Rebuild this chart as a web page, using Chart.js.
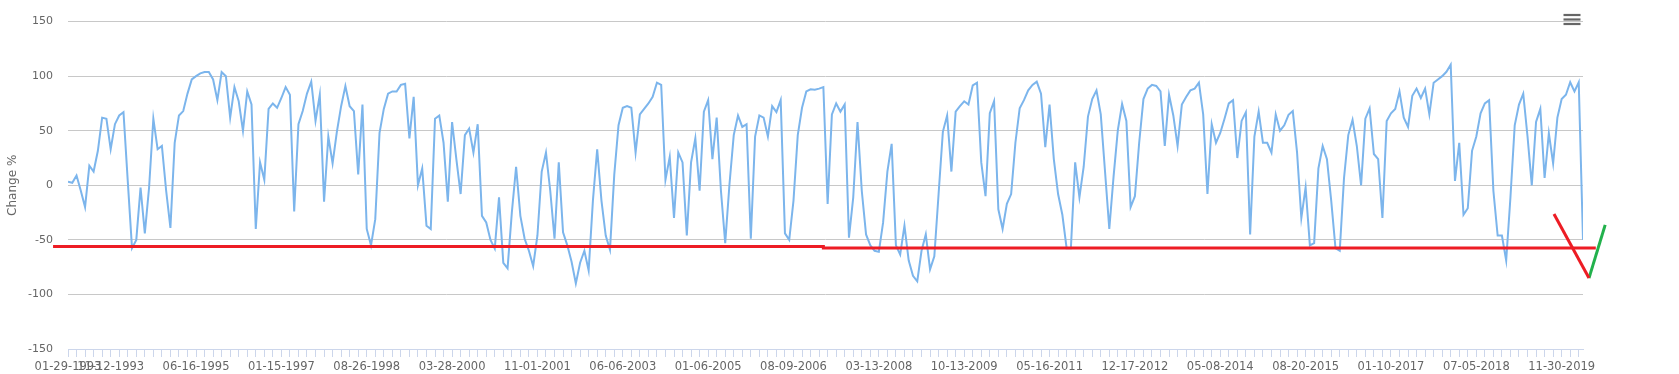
<!DOCTYPE html>
<html>
<head>
<meta charset="utf-8">
<script src="https://cdn.jsdelivr.net/npm/chart.js@4"></script>
<style>
  html, body { margin: 0; padding: 0; background: #fff; }
  #wrap { width: 1679px; height: 374px; position: relative; }
</style>
</head>
<body>
<div id="wrap"><canvas id="chart"></canvas></div>
<script>
'use strict';

// change %, one reading about every 20 trading days
const changePct = [
  3.2, 2.3, 9, -5, -20, 18, 12.6, 31.6, 62, 61,
  33, 56, 64, 67, 4, -57.6, -50, -2, -44, -2,
  61, 33, 36, -5, -39, 39, 64, 68, 84, 97,
  100, 102.6, 103.8, 103.8, 97, 78, 103.8, 100, 62, 90,
  77, 50, 86, 74, -40, 21, 5, 70, 75, 71,
  80, 90, 83, -24, 56, 68, 84, 95, 59, 83,
  -15, 44.7, 20, 49, 72.5, 91, 72.5, 68, 10, 74,
  -40, -55, -31, 48, 70, 84, 86, 86, 92, 93,
  43, 81, 0, 15.5, -37, -40, 61, 64, 39, -15,
  58, 24, -8, 46, 52, 30, 56, -28, -34, -50,
  -58, -11, -71, -76, -25, 17, -28, -49, -60, -74,
  -46, 12.6, 30, -5, -49, 21, -43, -55, -70,
  -90, -71, -60, -78, -14, 33, -14, -46, -59, 9.6,
  55, 71, 72.5, 71, 30, 65, 70, 75, 81, 94,
  92, 5, 26, -30, 30, 21, -46, 21, 43, -5,
  67.5, 78, 24, 62, -5, -53, 1, 46, 64, 53.5,
  56, -49, 44.7, 64, 62, 44.7, 72.5, 67, 78, -44,
  -50, -14, 46, 71, 86, 88, 87.5, 88.6, 90,
  -17, 65, 75, 67.5, 74, -48, -11, 58, -5, -45,
  -55, -60, -61, -34, 12.6, 38, -55, -63.5, -37, -69,
  -83, -88, -60, -45, -77, -65, -8, 49, 64, 12.6,
  67.5, 72.5, 77, 74, 91.5, 94, 21, -10, 66, 77,
  -22, -40, -17, -8, 39, 70.5, 78, 87, 92, 95,
  84, 35, 74, 24, -8, -27, -57.6, -57.6, 21,
  -11, 17, 63, 79, 87, 65, 12.6, -40, 8, 50.6,
  74.5, 59, -20, -10, 39, 79, 88.6, 92, 91, 86,
  36, 83, 64, 36, 74, 81, 87, 88.6, 94, 65,
  -8, 56, 39, 48, 61, 75, 78, 25, 59, 67,
  -45, 44.7, 67.5, 39, 39, 30, 65, 50, 55, 64.6,
  68, 30, -30, -2, -55, -53, 15.5, 36, 24, -14,
  -57.6, -60, 6.7, 46, 60, 36, 0, 61, 70.5, 28.7,
  24, -30, 59, 66, 70, 86, 62, 53.5, 82, 88.6,
  80, 88.6, 65, 94, 97, 100, 104, 110.5, 4, 39,
  -27, -21, 31.6, 44.7, 66, 75, 78, -5, -46, -46,
  -69, -11, 55, 74, 84, 44.7, 0, 58, 70, 6.7,
  47.7, 20, 62, 79, 83, 94.4, 86, 94.4, -50
];

const tickDates = [
  '01-29-1993', '11-12-1993', '06-16-1995', '01-15-1997', '08-26-1998', '03-28-2000',
  '11-01-2001', '06-06-2003', '01-06-2005', '08-09-2006', '03-13-2008', '10-13-2009',
  '05-16-2011', '12-17-2012', '05-08-2014', '08-20-2015', '01-10-2017', '07-05-2018',
  '11-30-2019'
];
const tickIndex = [0, 10, 30, 50, 70, 90, 110, 130, 150, 170, 190, 210, 230, 250, 270, 290, 310, 330, 350];

// support level and the hand drawn V at the end, as [index, %]
const supportLine = [[-3.5, -56], [177, -56], [177, -57.4], [358, -57.4]];
const dropLeg = [[348.2, -26.3], [356.4, -85]];
const bounceLeg = [[356.4, -85], [360.2, -36.3]];

const toXY = (pts) => pts.map(([x, y]) => ({ x, y }));

const menuIcon = {
  id: 'menuIcon',
  afterDraw(chart) {
    const { ctx, chartArea } = chart;
    ctx.save();
    ctx.strokeStyle = '#666';
    ctx.lineWidth = 2.2;
    [15, 19.5, 24].forEach((y) => {
      ctx.beginPath();
      ctx.moveTo(chartArea.right - 19.5, y);
      ctx.lineTo(chartArea.right - 2.5, y);
      ctx.stroke();
    });
    ctx.restore();
  },
};

Chart.defaults.font.family = '"DejaVu Sans", sans-serif';
Chart.defaults.color = '#666';

const paintLine = (pts, color) => ({
  data: toXY(pts),
  borderColor: color,
  borderWidth: 3,
  pointRadius: 0,
  clip: false,
  order: 0,
});

new Chart(document.querySelector('#chart'), {
  type: 'line',
  data: {
    datasets: [
      paintLine(supportLine, '#ed1c24'),
      paintLine(dropLeg, '#ed1c24'),
      paintLine(bounceLeg, '#22b14c'),
      {
        data: changePct.map((y, x) => ({ x, y })),
        borderColor: '#7cb5ec',
        borderWidth: 2,
        pointRadius: 0,
        tension: 0,
        order: 1,
      },
    ],
  },
  options: {
    responsive: true,
    maintainAspectRatio: false,
    animation: false,
    layout: { padding: { top: 7, right: 96, left: 0, bottom: 0 } },
    plugins: {
      legend: { display: false },
      tooltip: { enabled: false },
    },
    scales: {
      x: {
        type: 'linear',
        min: 0,
        max: changePct.length - 1,
        afterBuildTicks: (scale) => {
          const ticks = [];
          for (let v = 0; v < changePct.length; v += 2) ticks.push({ value: v });
          scale.ticks = ticks;
        },
        afterFit: (scale) => { scale.height = 25; },
        ticks: {
          autoSkip: false,
          maxRotation: 0,
          padding: 3,
          font: { size: 11.5 },
          callback: (v) => {
            const k = tickIndex.indexOf(v);
            return k < 0 ? '' : tickDates[k];
          },
        },
        grid: { drawOnChartArea: false, tickLength: 8, tickColor: '#ccd6eb' },
        border: { color: '#ccd6eb' },
      },
      y: {
        min: -150,
        max: 150,
        afterFit: (scale) => { scale.width = 68; },
        ticks: { stepSize: 50, padding: 15, font: { size: 11 } },
        grid: {
          drawTicks: false,
          color: (ctx) => (ctx.tick && ctx.tick.value === -150 ? 'rgba(0,0,0,0)' : '#c8c8c8'),
        },
        border: { display: false },
        title: {
          display: true,
          text: 'Change %',
          font: { size: 12 },
          padding: { top: 6, bottom: 0 },
        },
      },
    },
  },
  plugins: [menuIcon],
});
</script>
</body>
</html>
